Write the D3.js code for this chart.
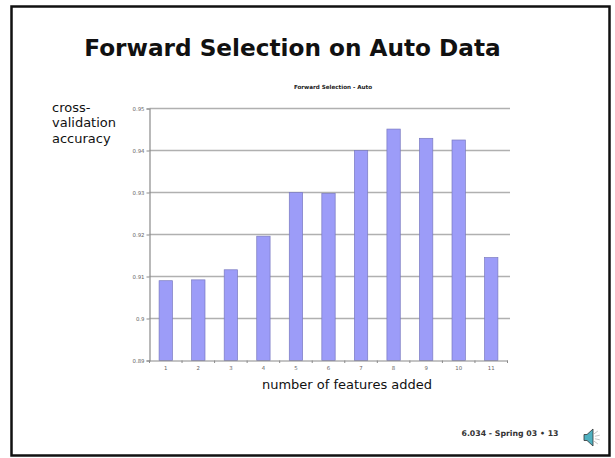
<!DOCTYPE html>
<html>
<head>
<meta charset="utf-8">
<script src="https://cdn.jsdelivr.net/npm/d3@7"></script>
<style>
html, body { margin: 0; padding: 0; background: #fff; }
svg { display: block; }
text { font-family: "DejaVu Sans", Verdana, sans-serif; }
</style>
</head>
<body>
<svg id="slide" width="615" height="458"></svg>
<script>
// Cross-validation accuracy after each forward-selection step
const featureCounts = ["1", "2", "3", "4", "5", "6", "7", "8", "9", "10", "11"];
const accuracy = [0.909, 0.9092, 0.9116, 0.9196, 0.93, 0.9298, 0.94, 0.9451, 0.9429, 0.9425, 0.9145];
const yTicks = [0.89, 0.9, 0.91, 0.92, 0.93, 0.94, 0.95];
const yTickLabels = ["0.89", "0.9", "0.91", "0.92", "0.93", "0.94", "0.95"];
const yLabelLines = ["cross-", "validation", "accuracy"];

const svg = d3.select("#slide");

// Slide border
svg.append("rect")
  .attr("x", 11.5).attr("y", 6.5).attr("width", 598).attr("height", 449)
  .attr("fill", "#fff").attr("stroke", "#111").attr("stroke-width", 2.5);

// Slide heading
svg.append("text")
  .attr("x", 292.5).attr("y", 56).attr("text-anchor", "middle")
  .attr("font-size", 23.2).attr("font-weight", "bold").attr("fill", "#111")
  .text("Forward Selection on Auto Data");

// Chart heading
svg.append("text")
  .attr("x", 333).attr("y", 89).attr("text-anchor", "middle")
  .attr("font-size", 5.6).attr("font-weight", "bold").attr("fill", "#222")
  .text("Forward Selection - Auto");

const x = d3.scaleBand().domain(featureCounts).range([149.5, 507.5]).paddingInner(0.59).paddingOuter(0.295);
const y = d3.scaleLinear().domain([0.89, 0.95]).range([360.5, 108.5]);

// Horizontal gridlines
svg.append("g").selectAll("line").data(yTicks.slice(1)).join("line")
  .attr("x1", 149.5).attr("x2", 510)
  .attr("y1", d => y(d)).attr("y2", d => y(d))
  .attr("stroke", "#b0b0b0").attr("stroke-width", 1.6);

// Bars
svg.append("g").selectAll("rect").data(accuracy).join("rect")
  .attr("x", (d, i) => x(featureCounts[i]))
  .attr("y", d => y(d))
  .attr("width", x.bandwidth())
  .attr("height", d => y(0.89) - y(d))
  .attr("fill", "#9c9cf8")
  .attr("stroke", "#7a7ac0").attr("stroke-width", 0.7);

// Value axis
const yAxis = d3.axisLeft(y)
  .tickValues(yTicks)
  .tickFormat((d, i) => yTickLabels[i])
  .tickSize(3).tickPadding(2);
const gy = svg.append("g").attr("transform", "translate(149.5,0)").call(yAxis);
gy.select(".domain").attr("stroke", "#8a8a8a").attr("stroke-width", 1.2);
gy.selectAll(".tick line").attr("stroke", "#8a8a8a");
gy.selectAll("text").attr("font-size", 5.4).attr("fill", "#666");

// Category axis
const xAxis = d3.axisBottom(x).tickSize(0).tickPadding(6);
const gx = svg.append("g").attr("transform", "translate(0,360.5)").call(xAxis);
gx.select(".domain").attr("stroke", "#8a8a8a").attr("stroke-width", 1.2);
gx.selectAll("text").attr("font-size", 5.4).attr("fill", "#666");
// Axis ticks sit between the categories
gx.selectAll("line.between").data(d3.range(featureCounts.length + 1)).join("line")
  .attr("class", "between")
  .attr("x1", i => x(featureCounts[0]) + x.bandwidth() / 2 + (i - 0.5) * x.step())
  .attr("x2", i => x(featureCounts[0]) + x.bandwidth() / 2 + (i - 0.5) * x.step())
  .attr("y1", 0).attr("y2", 2.5)
  .attr("stroke", "#8a8a8a");

// Side annotation for the value axis
svg.append("g").selectAll("text").data(yLabelLines).join("text")
  .attr("x", 52).attr("y", (d, i) => 111.5 + i * 15.7)
  .attr("font-size", 13).attr("fill", "#111")
  .text(d => d);

// Category axis annotation
svg.append("text")
  .attr("x", 347).attr("y", 389).attr("text-anchor", "middle")
  .attr("font-size", 13).attr("fill", "#111")
  .text("number of features added");

// Footer
svg.append("text")
  .attr("x", 558.5).attr("y", 436).attr("text-anchor", "end")
  .attr("font-size", 7.8).attr("font-weight", "bold").attr("fill", "#333")
  .text("6.034 - Spring 03  \u2022 13");

// Speaker icon
const icon = svg.append("g").attr("transform", "translate(584,437.5)");
icon.append("path").attr("d", "M0,-3 L3,-3 L9,-8.5 L9,8.5 L3,3 L0,3 Z")
  .attr("fill", "#4fb0c0").attr("stroke", "#333").attr("stroke-width", 0.8);
icon.append("g").selectAll("line").data([-36, -12, 12, 36]).join("line")
  .attr("x1", 11).attr("y1", 0).attr("x2", 16).attr("y2", 0)
  .attr("transform", d => `rotate(${d} 5 0)`)
  .attr("stroke", "#c4c4c4").attr("stroke-width", 0.9);
</script>
</body>
</html>
